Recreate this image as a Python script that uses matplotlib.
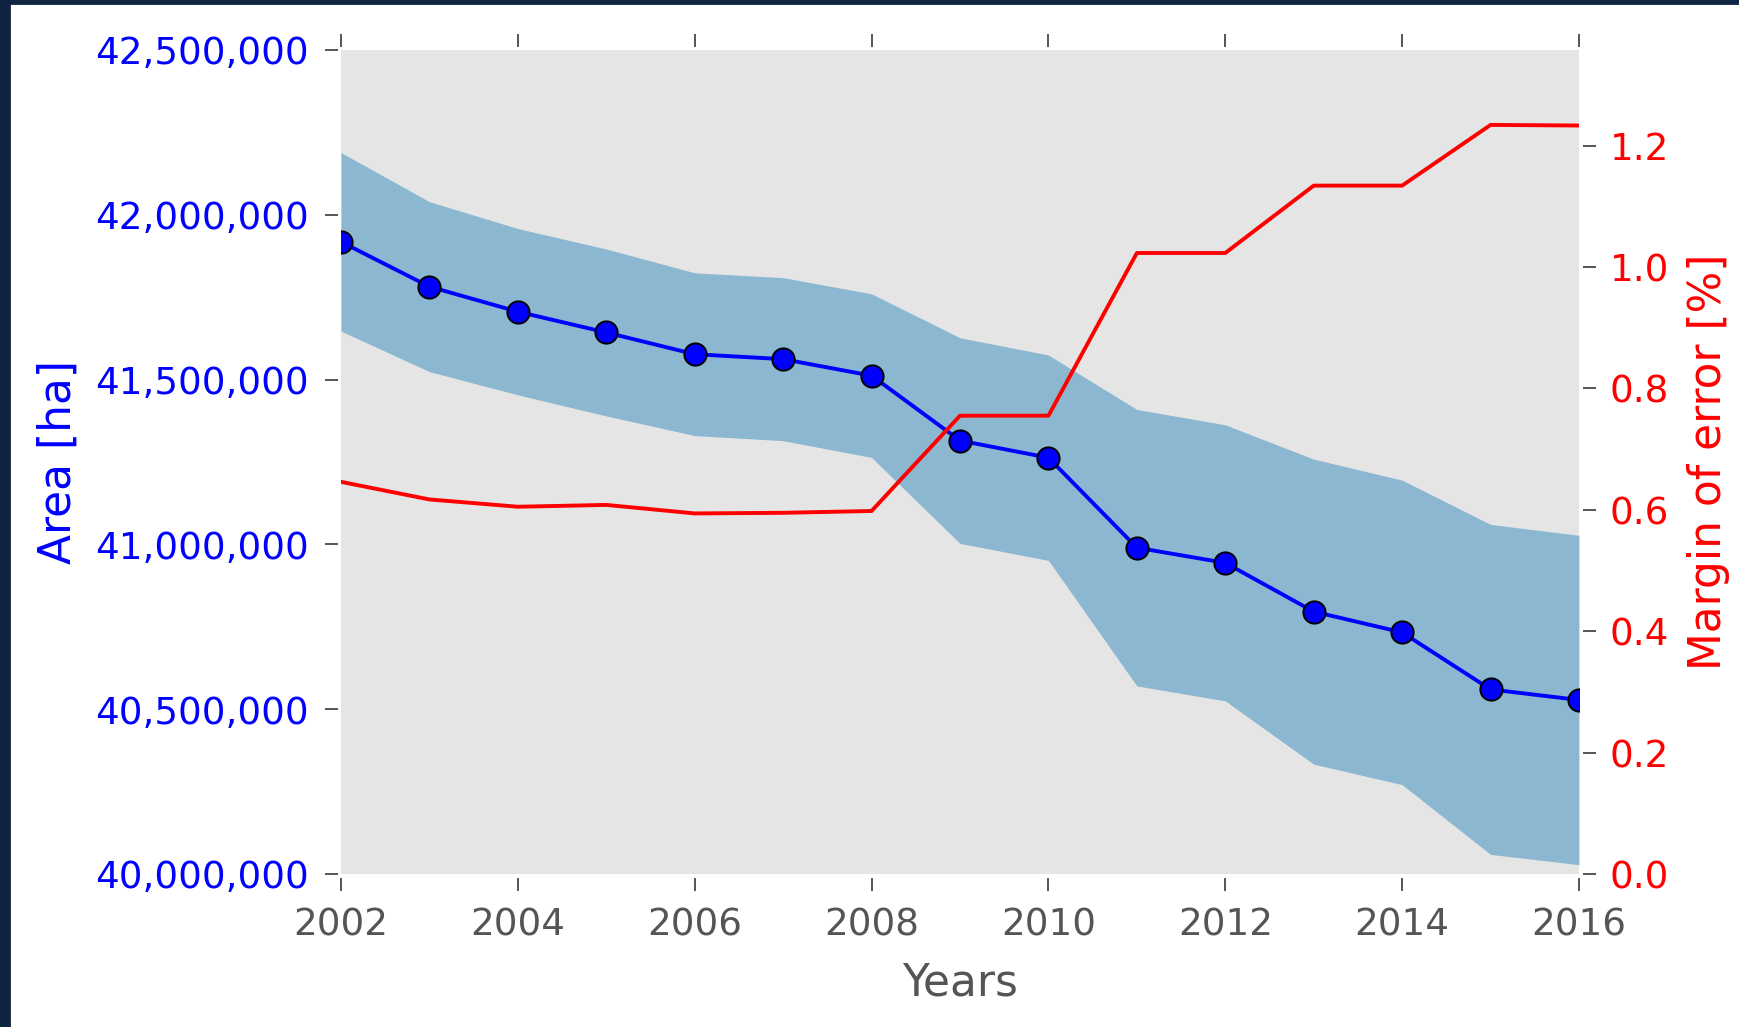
import matplotlib

matplotlib.use("Agg")
import matplotlib.pyplot as plt
import numpy as np
from matplotlib.patches import Rectangle
from matplotlib.ticker import FuncFormatter, FormatStrFormatter

# yearly area estimate and its margin of error
years = np.arange(2002, 2017)
area_ha = np.array([41918000, 41782000, 41706000, 41643000, 41577000,
                    41562000, 41512000, 41315000, 41263000, 40990000,
                    40944000, 40796000, 40733000, 40560000, 40528000])
margin_pct = np.array([0.646, 0.617, 0.605, 0.608, 0.594, 0.595, 0.598,
                       0.755, 0.755, 1.023, 1.023, 1.134, 1.134, 1.234, 1.233])

GREY = "#555555"
TICK_FS = 13.4
LABEL_FS = 15.8

plt.rcParams.update({"font.family": "DejaVu Sans"})
fig = plt.figure(figsize=(1739 / 200, 1027 / 200), dpi=200)
fig.patch.set_facecolor("white")
ax1 = fig.add_axes([341 / 1739, 1 - 874 / 1027, 1238 / 1739, 824 / 1027])
ax1.set_facecolor("#E5E5E5")

# confidence band around the estimate
lower = area_ha * (1 - margin_pct / 100)
upper = area_ha * (1 + margin_pct / 100)
ax1.fill_between(years, lower, upper, color="#348ABD", alpha=0.5, lw=0)
ax1.plot(years, area_ha, "o-", color="blue", lw=1.4, ms=8,
         mec="black", mew=0.7)

ax1.set_xlim(2002, 2016)
ax1.set_ylim(40_000_000, 42_500_000)
ax1.set_xticks(range(2002, 2017, 2))
ax1.set_yticks(np.arange(40_000_000, 42_500_001, 500_000))
ax1.yaxis.set_major_formatter(FuncFormatter(lambda v, _: f"{int(v):,}"))

ax2 = ax1.twinx()
ax2.plot(years, margin_pct, color="red", lw=1.4)
ax2.set_ylim(0, margin_pct.max() * 1.1)
ax2.set_yticks(np.arange(0, 1.21, 0.2))
ax2.yaxis.set_major_formatter(FormatStrFormatter("%.1f"))

# hidden spines pushed slightly out so the ticks float off the panel
for ax in (ax1, ax2):
    for sp in ax.spines.values():
        sp.set_position(("outward", 1.26))
        sp.set_visible(False)

tick_kw = dict(direction="out", length=4.7, width=0.7, color=GREY,
               labelsize=TICK_FS, pad=5.6)
ax1.tick_params(axis="x", top=True, labelcolor=GREY, **tick_kw)
ax1.tick_params(axis="y", labelcolor="blue", **tick_kw)
ax2.tick_params(axis="y", labelcolor="red", **{**tick_kw, "pad": 5.1})

ax1.set_xlabel("Years", color=GREY, fontsize=LABEL_FS)
ax1.xaxis.set_label_coords(0.5, -0.1067)
ax1.set_ylabel("Area [ha]", color="blue", fontsize=LABEL_FS)
ax1.yaxis.set_label_coords(-0.211, 0.5)
ax2.set_ylabel("Margin of error [%]", color="red", fontsize=LABEL_FS)
ax2.yaxis.set_label_coords(1.0873, 0.5)

# dark frame strips along the left and top edges
frame = "#0F2441"
fig.patches.append(Rectangle((0, 0), 9 / 1739, 1, transform=fig.transFigure,
                             color=frame, zorder=10))
fig.patches.append(Rectangle((0, 1 - 3 / 1027), 1, 3 / 1027,
                             transform=fig.transFigure, color=frame, zorder=10))

fig.savefig("out.png", dpi=200)
